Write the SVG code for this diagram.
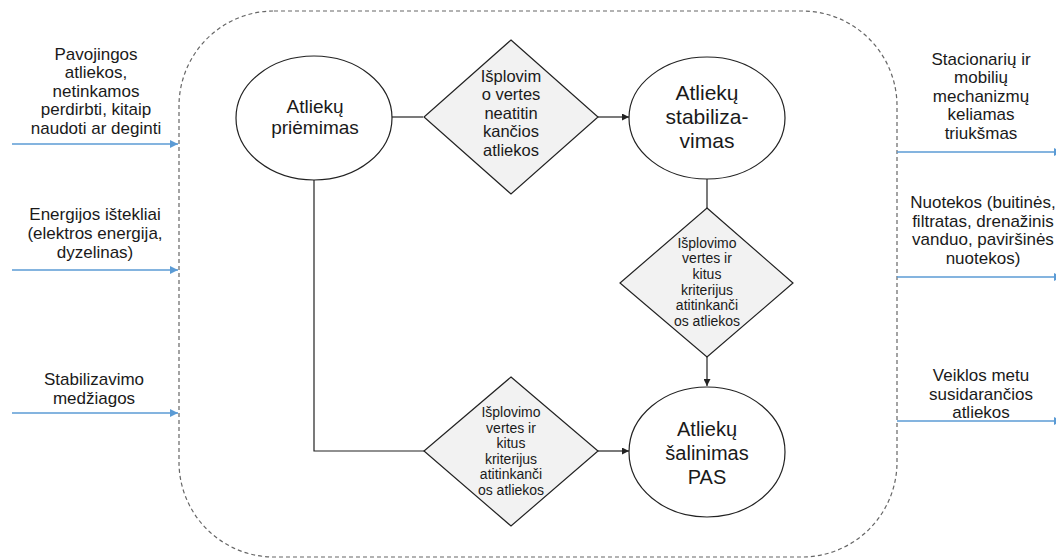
<svg xmlns="http://www.w3.org/2000/svg" width="1056" height="560" viewBox="0 0 1056 560">
<defs>
<style>
text{font-family:"Liberation Sans",Arial,sans-serif;fill:#1a1a1a;text-anchor:middle}
.side{font-size:17px}
.e1{font-size:19px}
.e2{font-size:21px}
.e3{font-size:20px}
.d1{font-size:16.5px}
.d2{font-size:14px}
.node{fill:#fff;stroke:#222;stroke-width:1.2}
.dia{fill:#f2f2f2;stroke:#222;stroke-width:1.2}
.conn{fill:none;stroke:#222;stroke-width:1.2}
.io{fill:none;stroke:#5b9bd5;stroke-width:1.5}
</style>
<marker id="ah" viewBox="0 0 10 10" refX="10" refY="5" markerWidth="7" markerHeight="7" orient="auto" markerUnits="userSpaceOnUse"><path d="M0,0 L10,5 L0,10 z" fill="#222"/></marker>
<marker id="ab" viewBox="0 0 10 10" refX="10" refY="5" markerWidth="8" markerHeight="8" orient="auto" markerUnits="userSpaceOnUse"><path d="M0,0 L10,5 L0,10 z" fill="#5b9bd5"/></marker>
</defs>
<rect x="0" y="0" width="1056" height="560" fill="#fff"/>
<rect id="boundary" x="179" y="11" width="718" height="546" rx="95" ry="95" fill="none" stroke="#666" stroke-width="1.2" stroke-dasharray="4,3"/>

<g id="connectors">
<line class="conn" x1="392" y1="117" x2="423" y2="117"/>
<line class="conn" x1="598" y1="117" x2="629" y2="117" marker-end="url(#ah)"/>
<line class="conn" x1="707" y1="178" x2="707" y2="208"/>
<line class="conn" x1="707" y1="357" x2="707" y2="386" marker-end="url(#ah)"/>
<polyline class="conn" points="314,180 314,451 424,451"/>
<line class="conn" x1="598" y1="451" x2="629" y2="451" marker-end="url(#ah)"/>
<line class="io" x1="12" y1="144" x2="178" y2="144" marker-end="url(#ab)"/>
<line class="io" x1="12" y1="270" x2="178" y2="270" marker-end="url(#ab)"/>
<line class="io" x1="12" y1="413" x2="178" y2="413" marker-end="url(#ab)"/>
<line class="io" x1="897" y1="152" x2="1062" y2="152" marker-end="url(#ab)"/>
<line class="io" x1="897" y1="277" x2="1062" y2="277" marker-end="url(#ab)"/>
<line class="io" x1="897" y1="421" x2="1062" y2="421" marker-end="url(#ab)"/>
</g>

<g id="in1" class="side">
<text x="96" y="60">Pavojingos</text>
<text x="96" y="78">atliekos,</text>
<text x="96" y="97">netinkamos</text>
<text x="96" y="115">perdirbti, kitaip</text>
<text x="96" y="134">naudoti ar deginti</text>
</g>
<g id="in2" class="side">
<text x="95" y="220">Energijos ištekliai</text>
<text x="95" y="239">(elektros energija,</text>
<text x="95" y="258">dyzelinas)</text>
</g>
<g id="in3" class="side">
<text x="94" y="385">Stabilizavimo</text>
<text x="94" y="404">medžiagos</text>
</g>
<g id="out1" class="side">
<text x="981" y="65">Stacionarių ir</text>
<text x="981" y="83">mobilių</text>
<text x="981" y="102">mechanizmų</text>
<text x="981" y="120">keliamas</text>
<text x="981" y="139">triukšmas</text>
</g>
<g id="out2" class="side">
<text x="983" y="208">Nuotekos (buitinės,</text>
<text x="983" y="227">filtratas, drenažinis</text>
<text x="983" y="245">vanduo, paviršinės</text>
<text x="983" y="264">nuotekos)</text>
</g>
<g id="out3" class="side">
<text x="981" y="381">Veiklos metu</text>
<text x="981" y="400">susidarančios</text>
<text x="981" y="418">atliekos</text>
</g>

<g id="priemimas">
<ellipse class="node" cx="314" cy="118" rx="78" ry="62"/>
<text class="e1" x="315" y="113">Atliekų</text>
<text class="e1" x="315" y="134">priėmimas</text>
</g>
<g id="neatitinkancios">
<polygon class="dia" points="511,40 598,117 511,194 424,117"/>
<text class="d1" x="511" y="82">Išplovim</text>
<text class="d1" x="511" y="100">o vertes</text>
<text class="d1" x="511" y="119">neatitin</text>
<text class="d1" x="511" y="137">kančios</text>
<text class="d1" x="511" y="156">atliekos</text>
</g>
<g id="stabilizavimas">
<ellipse class="node" cx="707" cy="118" rx="78" ry="61"/>
<text class="e2" x="707" y="100">Atliekų</text>
<text class="e2" x="707" y="124">stabiliza-</text>
<text class="e2" x="707" y="148">vimas</text>
</g>
<g id="atitinkancios1">
<polygon class="dia" points="707,208 793,283 707,357 620,283"/>
<text class="d2" x="707" y="248">Išplovimo</text>
<text class="d2" x="707" y="263">vertes ir</text>
<text class="d2" x="707" y="279">kitus</text>
<text class="d2" x="707" y="295">kriterijus</text>
<text class="d2" x="707" y="310">atitinkanči</text>
<text class="d2" x="707" y="326">os atliekos</text>
</g>
<g id="atitinkancios2">
<polygon class="dia" points="511,377 598,451 511,526 424,451"/>
<text class="d2" x="511" y="417">Išplovimo</text>
<text class="d2" x="511" y="433">vertes ir</text>
<text class="d2" x="511" y="448">kitus</text>
<text class="d2" x="511" y="464">kriterijus</text>
<text class="d2" x="511" y="479">atitinkanči</text>
<text class="d2" x="511" y="495">os atliekos</text>
</g>
<g id="salinimas">
<ellipse class="node" cx="707" cy="452" rx="78" ry="65"/>
<text class="e3" x="707" y="436">Atliekų</text>
<text class="e3" x="707" y="460">šalinimas</text>
<text class="e3" x="707" y="484">PAS</text>
</g>
</svg>
